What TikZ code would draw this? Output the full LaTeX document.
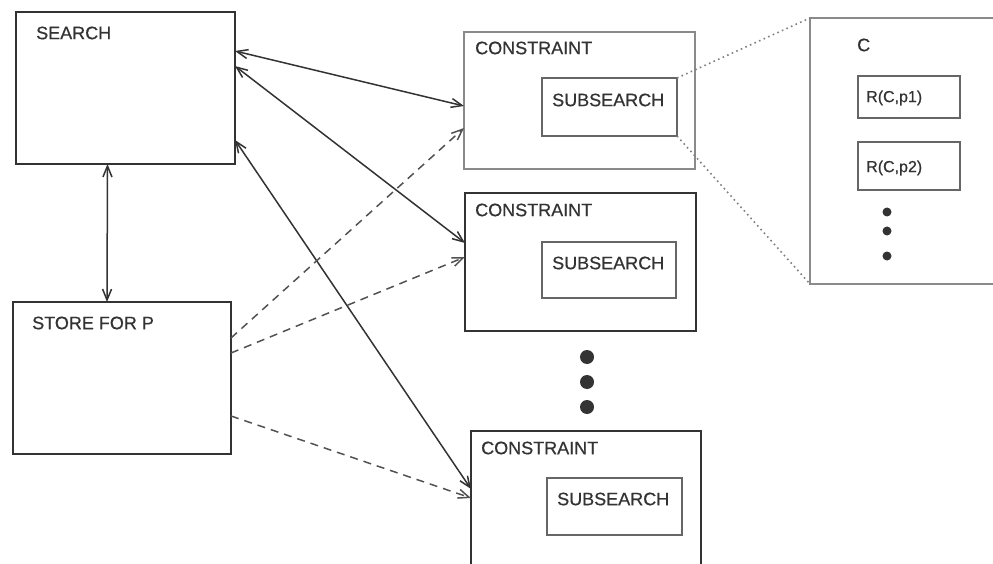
\documentclass[tikz,border=0pt]{standalone}
\usepackage{fontspec}
\setmainfont{Liberation Sans}[BoldFont={Liberation Sans}, BoldFeatures={FakeBold=0.6}]
\usetikzlibrary{arrows.meta}
\definecolor{ink}{HTML}{333333}
\definecolor{midgray}{HTML}{666666}
\definecolor{lightgray2}{HTML}{8A8A8A}
\tikzset{
  box/.style={draw=ink, line width=1.7pt, anchor=north west, inner sep=0pt, outer sep=0pt},
  lbox/.style={draw=lightgray2, line width=1.4pt, anchor=north west, inner sep=0pt, outer sep=0pt},
  sbox/.style={draw=midgray, line width=1.4pt, anchor=north west, inner sep=0pt, outer sep=0pt},
  lbl/.style={anchor=west, inner sep=0pt, text=ink, font=\fontsize{18}{20}\selectfont\bfseries},
  slbl/.style={anchor=west, inner sep=0pt, text=ink, font=\fontsize{16}{18}\selectfont\bfseries},
  arr/.style={draw=ink, line width=1.5pt, {Straight Barb[length=11pt,width=9pt]}-{Straight Barb[length=11pt,width=9pt]}},
  darr/.style={draw=ink!85, line width=1.5pt, dash pattern=on 8pt off 6pt, -{Straight Barb[length=11pt,width=9pt]}},
  dotline/.style={draw=gray, line width=1.6pt, dash pattern=on 1.6pt off 3.4pt},
  bigdot/.style={circle, fill=ink, inner sep=0pt, minimum size=14pt},
  smalldot/.style={circle, fill=ink, inner sep=0pt, minimum size=9pt}
}
\begin{document}
\begin{tikzpicture}[x=1pt,y=-1pt]
\useasboundingbox (0,0) rectangle (993,564);
\clip (0,0) rectangle (993,564);
% left boxes
\node[box, minimum width=219pt, minimum height=152pt] (search) at (16,12) {};
\node[lbl] (searchlbl) at (36,33) {SEARCH};
\node[box, minimum width=218pt, minimum height=152pt] (store) at (13,302) {};
\node[lbl] (storelbl) at (32,323) {STORE FOR P};
% constraint boxes
\node[lbox, minimum width=231pt, minimum height=137pt] (c1) at (464,32) {};
\node[lbl] (c1lbl) at (475,48) {CONSTRAINT};
\node[sbox, minimum width=135pt, minimum height=58pt] (sub1) at (542,78) {};
\node[lbl] (sub1lbl) at (552,100) {SUBSEARCH};
\node[box, minimum width=231pt, minimum height=138pt] (c2) at (465,193) {};
\node[lbl] (c2lbl) at (475,210) {CONSTRAINT};
\node[sbox, minimum width=134pt, minimum height=56pt] (sub2) at (542,242) {};
\node[lbl] (sub2lbl) at (552,263) {SUBSEARCH};
\node[box, minimum width=230pt, minimum height=150pt] (c3) at (471,431) {};
\node[lbl] (c3lbl) at (481,448) {CONSTRAINT};
\node[sbox, minimum width=135pt, minimum height=57pt] (sub3) at (547,478) {};
\node[lbl] (sub3lbl) at (557,499) {SUBSEARCH};
% vertical dots
\node[bigdot] (d1) at (587,357) {};
\node[bigdot] (d2) at (587,382) {};
\node[bigdot] (d3) at (587,407) {};
% C box
\node[sbox, draw=lightgray2, minimum width=200pt, minimum height=266pt] (cbox) at (810,18) {};
\node[lbl] (clbl) at (857,45) {C};
\node[sbox, minimum width=102pt, minimum height=42pt] (r1) at (858,76) {};
\node[slbl] (r1lbl) at (866,98) {R(C,p1)};
\node[sbox, minimum width=102pt, minimum height=48pt] (r2) at (858,142) {};
\node[slbl] (r2lbl) at (866,168) {R(C,p2)};
\node[smalldot] (e1) at (887,212) {};
\node[smalldot] (e2) at (887,231) {};
\node[smalldot] (e3) at (887,256) {};
% solid double arrows
\draw[arr] ([yshift=-39pt]search.north east) -- ([yshift=-74pt]c1.north west);
\draw[arr] ([yshift=-54pt]search.north east) -- ([yshift=-50pt]c2.north west);
\draw[arr] ([yshift=-128pt]search.north east) -- ([yshift=-58pt]c3.north west);
\draw[arr] ([xshift=-18pt]search.south) -- ([xshift=-15pt]store.north);
% dashed arrows
\draw[darr] ([yshift=-36pt]store.north east) -- ([yshift=-96pt]c1.north west);
\draw[darr] ([yshift=-51pt]store.north east) -- ([yshift=-64pt]c2.north west);
\draw[darr] ([yshift=-114pt]store.north east) -- ([yshift=-67pt]c3.north west);
% dotted zoom lines
\draw[dotline] (sub1.north east) -- (cbox.north west);
\draw[dotline] (sub1.south east) -- (cbox.south west);
\end{tikzpicture}
\end{document}
